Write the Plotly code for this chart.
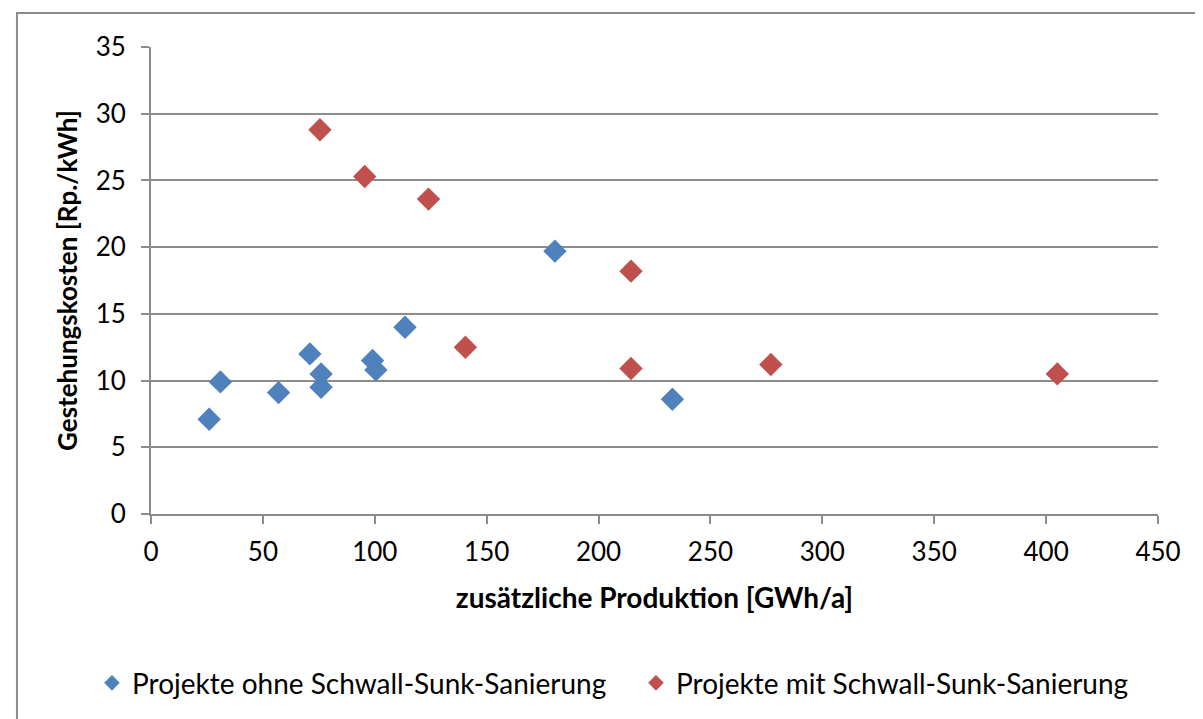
import plotly.graph_objects as go

# Projekte ohne Schwall-Sunk-Sanierung
ohne_x = [26, 31, 57, 71, 76, 76, 99, 100.5, 113.5, 180.5, 233]
ohne_y = [7.1, 9.9, 9.1, 12.0, 10.5, 9.5, 11.5, 10.8, 14.0, 19.7, 8.6]

# Projekte mit Schwall-Sunk-Sanierung
mit_x = [75.5, 95.5, 124, 140.5, 214.5, 214.5, 277, 405]
mit_y = [28.8, 25.3, 23.6, 12.5, 18.2, 10.9, 11.2, 10.5]

x_ticks = [0, 50, 100, 150, 200, 250, 300, 350, 400, 450]
y_ticks = [0, 5, 10, 15, 20, 25, 30, 35]

BLUE = "#4F81BD"
RED = "#C0504D"
GRID = "#8C8C8C"
FONT = "Lato"

fig = go.Figure()
fig.add_trace(go.Scatter(
    x=ohne_x, y=ohne_y, mode="markers",
    name="Projekte ohne Schwall-Sunk-Sanierung",
    marker=dict(symbol="diamond", size=18, color=BLUE),
    legend="legend",
))
fig.add_trace(go.Scatter(
    x=mit_x, y=mit_y, mode="markers",
    name="Projekte mit Schwall-Sunk-Sanierung",
    marker=dict(symbol="diamond", size=18, color=RED),
    legend="legend2",
))

axis_common = dict(
    showgrid=True, gridcolor=GRID, gridwidth=2,
    showline=True, linecolor=GRID, linewidth=2,
    ticks="outside", ticklen=8, tickwidth=2, tickcolor=GRID,
    zeroline=False, fixedrange=True,
    tickfont=dict(family=FONT, size=26, color="#000000"),
)

legend_common = dict(
    orientation="h", xref="container", yref="container",
    xanchor="left", y=0.061, yanchor="middle",
    font=dict(family=FONT, size=28), itemsizing="constant",
)

fig.update_layout(
    width=1203, height=719,
    paper_bgcolor="white", plot_bgcolor="white",
    # the page body adds 8px, so margins are shifted by that
    margin=dict(l=143, r=53, t=39, b=213),
    font=dict(family=FONT, size=26, color="#000000"),
    xaxis=dict(
        axis_common, range=[0, 450], tickvals=x_ticks, showgrid=False,
        ticklabelstandoff=6,
        title=dict(text="<b>zusätzliche Produktion [GWh/a]</b>",
                   font=dict(family=FONT, size=28), standoff=22),
    ),
    yaxis=dict(
        axis_common, range=[0, 35], tickvals=y_ticks,
        ticklabelstandoff=10,
        title=dict(text="<b>Gestehungskosten [Rp./kWh]</b>",
                   font=dict(family=FONT, size=26), standoff=11),
    ),
    showlegend=True,
    legend=dict(legend_common, x=0.0698),
    legend2=dict(legend_common, x=0.522),
    shapes=[dict(
        type="rect", xref="paper", yref="paper",
        x0=-0.1331, x1=1.2, y0=-0.45, y1=1.073,
        line=dict(color=GRID, width=2), layer="below",
    )],
)

fig.write_html("out.html", config={"displayModeBar": False})
